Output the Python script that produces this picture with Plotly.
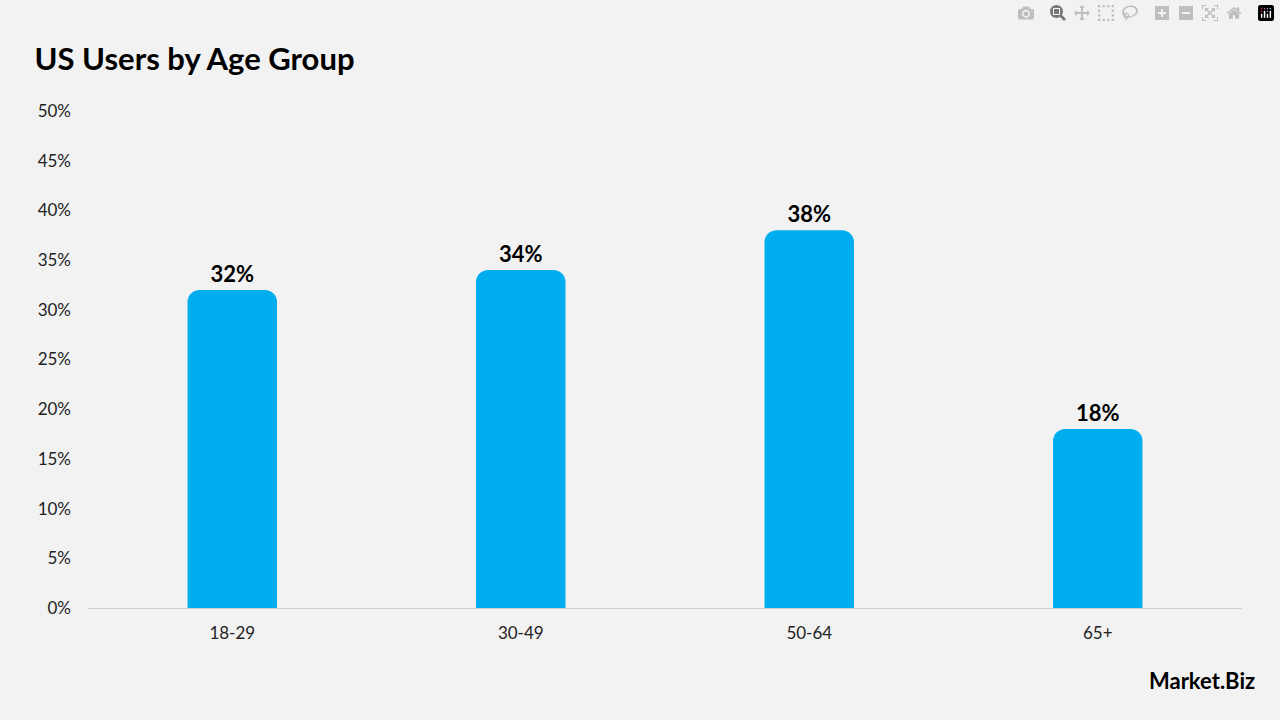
import plotly.graph_objects as go

categories = ["18-29", "30-49", "50-64", "65+"]
values = [32, 34, 38, 18]
labels = ["32%", "34%", "38%", "18%"]
tick_vals = [0, 5, 10, 15, 20, 25, 30, 35, 40, 45, 50]
tick_text = [f"{v}%" for v in tick_vals]

fig = go.Figure(go.Bar(
    x=categories, y=values, width=0.31,
    marker=dict(color="#00AEEF", line=dict(width=0)),
    text=labels, textposition="outside", cliponaxis=False,
    textfont=dict(family="Lato", size=22, color="#000000", weight="bold"),
))
fig.update_layout(
    width=1280, height=720,
    paper_bgcolor="#f2f2f2", plot_bgcolor="#f2f2f2",
    margin=dict(l=88, r=38, t=111, b=112),
    barcornerradius=12,
    showlegend=False,
    title=dict(text="<b>US Users by Age Group</b>", x=0.027, xanchor="left", y=0.918, yanchor="middle",
               font=dict(family="Lato", size=31, color="#000000")),
    xaxis=dict(showgrid=False, showline=True, linecolor="#d0d0d0", linewidth=1, ticks="",
               tickfont=dict(family="Lato", size=17, color="#222222"), ticklabelstandoff=10),
    yaxis=dict(range=[0, 50], tickvals=tick_vals, ticktext=tick_text, showgrid=False,
               zeroline=False, ticks="", tickfont=dict(family="Lato", size=17, color="#222222"),
               ticklabelstandoff=16),
    annotations=[dict(text="<b>Market.Biz</b>", xref="paper", yref="paper", x=1.013, y=-0.145,
                      xanchor="right", yanchor="middle", showarrow=False,
                      font=dict(family="Lato", size=22, color="#000000"))],
)
fig.write_html("out.html", post_script="document.body.style.margin='0';document.body.style.background='#f2f2f2';")
